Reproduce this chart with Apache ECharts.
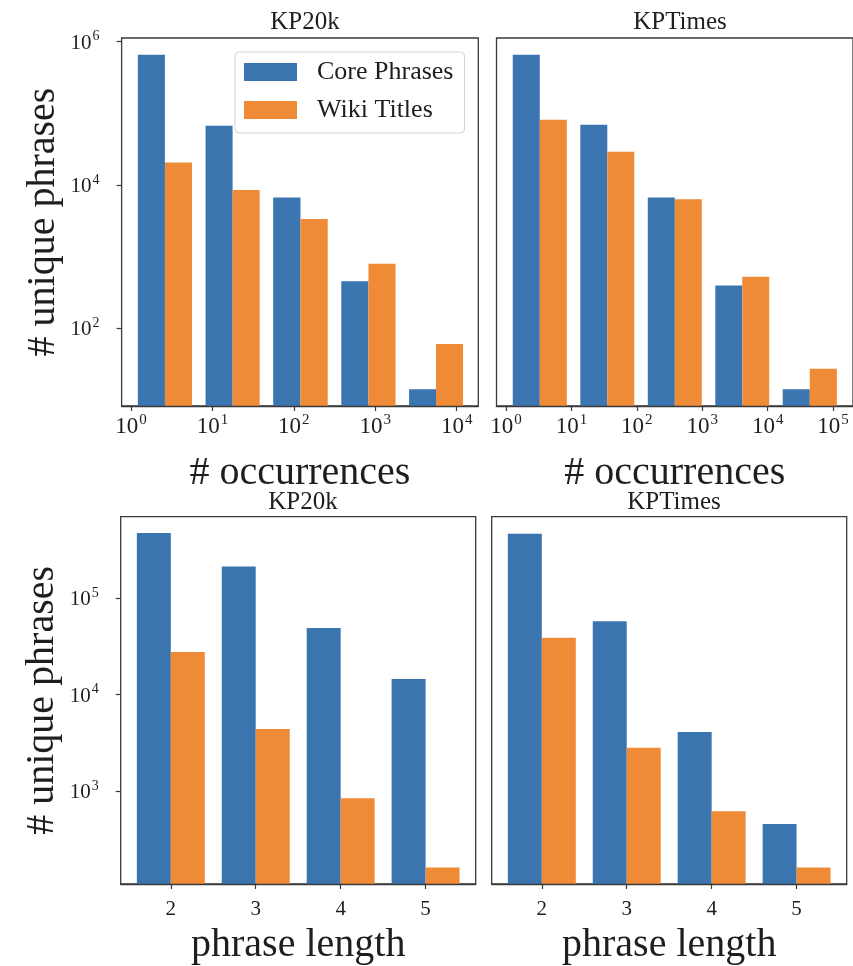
<!DOCTYPE html>
<html><head><meta charset="utf-8">
<script src="https://cdn.jsdelivr.net/npm/echarts@6/dist/echarts.min.js"></script>
<style>html,body{margin:0;padding:0;background:#fff}#c{width:853px;height:966px}</style>
</head><body><div id="c"></div>
<script>
// ---- data ----
const seriesNames = ['Core Phrases', 'Wiki Titles'];
const panelTitles = ['KP20k', 'KPTimes', 'KP20k', 'KPTimes'];
// histogram bin edges (# occurrences)
const kp20kOccBinEdges = [1, 6.8, 46, 316, 2150, 14500];
const kptimesOccBinEdges = [1, 10.8, 116, 1250, 13400, 145000];
// # unique phrases per bin
const kp20kOccCore = [660000, 67000, 6650, 450, 14];
const kp20kOccWiki = [20600, 8500, 3340, 790, 60];
const kptimesOccCore = [660000, 69000, 6650, 395, 14];
const kptimesOccWiki = [81000, 29000, 6300, 520, 27];
// phrase length
const phraseLengths = [2, 3, 4, 5];
const kp20kLenCore = [470000, 212000, 49000, 14500];
const kp20kLenWiki = [27700, 4430, 850, 164];
const kptimesLenCore = [460000, 57400, 4120, 460];
const kptimesLenWiki = [38700, 2820, 622, 164];
// tick labels (exponents of 10)
const kp20kOccXTicks = [0, 1, 2, 3, 4];
const kptimesOccXTicks = [0, 1, 2, 3, 4, 5];
const occYTicks = [2, 4, 6];
const lenYTicks = [3, 4, 5];

// ---- style ----
const FONT = "'Liberation Serif', 'Times New Roman', serif";
const BLUE = '#3a75b0', ORANGE = '#ef8a36';
const INK = '#1e1e1e', FRAME = '#3a3a3a';

const chart = echarts.init(document.getElementById('c'));

function supFmt(v) { return '{b|10}{s|' + v + '}'; }
const xRich = {
  b: {fontFamily: FONT, fontSize: 23, color: INK, verticalAlign: 'bottom'},
  s: {fontFamily: FONT, fontSize: 15, color: INK, verticalAlign: 'bottom', padding: [0, 0, 10, 1]}
};
const yRich = {
  b: {fontFamily: FONT, fontSize: 21, color: INK, verticalAlign: 'bottom'},
  s: {fontFamily: FONT, fontSize: 14, color: INK, verticalAlign: 'bottom', padding: [0, 0, 10, 1]}
};

const grids = [
  {left: 121.6, top: 38, width: 356.7, height: 368},
  {left: 496.5, top: 38, width: 357.5, height: 368},
  {left: 120.7, top: 516.7, width: 355, height: 368.3},
  {left: 491.7, top: 516.7, width: 355, height: 368.3}
].map(g => Object.assign(g, {show: true, borderColor: FRAME, borderWidth: 1.3, containLabel: false}));

function xAxisOcc(idx, min, max, ticks) {
  return {
    type: 'value', gridIndex: idx, min, max, z: 10,
    name: '# occurrences', nameLocation: 'middle', nameGap: 47,
    nameTextStyle: {fontFamily: FONT, fontSize: 40, color: INK},
    axisLine: {show: true, onZero: false, lineStyle: {color: FRAME, width: 1.3}},
    axisTick: {show: true, length: 5, customValues: ticks, lineStyle: {color: FRAME, width: 1.2}},
    axisLabel: {show: true, customValues: ticks, margin: 7, formatter: supFmt, rich: xRich},
    splitLine: {show: false}
  };
}
function xAxisLen(idx) {
  return {
    type: 'value', gridIndex: idx, min: 1.41, max: 5.59, z: 10,
    name: 'phrase length', nameLocation: 'middle', nameGap: 41,
    nameTextStyle: {fontFamily: FONT, fontSize: 40, color: INK},
    axisLine: {show: true, onZero: false, lineStyle: {color: FRAME, width: 1.3}},
    axisTick: {show: true, length: 5, customValues: phraseLengths, lineStyle: {color: FRAME, width: 1.2}},
    axisLabel: {show: true, customValues: phraseLengths, margin: 15, fontFamily: FONT, fontSize: 21, color: INK},
    splitLine: {show: false}
  };
}
function yAxisLog(idx, min, max, ticks, showLabels) {
  return {
    type: 'value', gridIndex: idx, min, max, z: 10,
    name: showLabels ? '# unique phrases' : '', nameLocation: 'middle', nameGap: 58,
    nameTextStyle: {fontFamily: FONT, fontSize: 40, color: INK},
    axisLine: {show: false, onZero: false},
    axisTick: {show: showLabels, length: 5, customValues: ticks, lineStyle: {color: FRAME, width: 1.2}},
    axisLabel: {show: showLabels, customValues: ticks, margin: 22, formatter: supFmt, rich: yRich},
    splitLine: {show: false}
  };
}

function histSeries(name, color, edges, counts, slot, gi) {
  const data = counts.map((c, i) => {
    const lo = Math.log10(edges[i]), hi = Math.log10(edges[i + 1]);
    return [(lo + hi) / 2, Math.log10(c), lo, hi, c];
  });
  return {
    type: 'custom', name, xAxisIndex: gi, yAxisIndex: gi, clip: true,
    itemStyle: {color}, data, encode: {x: 0, y: 1},
    renderItem(params, api) {
      const lo = api.value(2), hi = api.value(3), w = hi - lo;
      const x0 = lo + w * (0.1 + 0.4 * slot), x1 = x0 + 0.4 * w;
      const p0 = api.coord([x0, api.value(1)]);
      const p1 = api.coord([x1, api.value(1)]);
      const cs = params.coordSys;
      return {type: 'rect', shape: {x: p0[0], y: p0[1], width: p1[0] - p0[0], height: cs.y + cs.height - p0[1]},
        style: {fill: api.visual('color')}};
    }
  };
}
function lenSeries(name, color, counts, slot, gi) {
  const data = phraseLengths.map((L, i) => [L, Math.log10(counts[i]), counts[i]]);
  return {
    type: 'custom', name, xAxisIndex: gi, yAxisIndex: gi, clip: true,
    itemStyle: {color}, data, encode: {x: 0, y: 1},
    renderItem(params, api) {
      const x0 = api.value(0) - 0.4 + 0.4 * slot, x1 = x0 + 0.4;
      const p0 = api.coord([x0, api.value(1)]);
      const p1 = api.coord([x1, api.value(1)]);
      const cs = params.coordSys;
      return {type: 'rect', shape: {x: p0[0], y: p0[1], width: p1[0] - p0[0], height: cs.y + cs.height - p0[1]},
        style: {fill: api.visual('color')}};
    }
  };
}

const titleCenters = [[300, 5], [675, 5], [298, 485], [669, 485]];

const option = {
  backgroundColor: '#fff',
  animation: false,
  title: panelTitles.map((t, i) => ({
    text: t, left: titleCenters[i][0], top: titleCenters[i][1], textAlign: 'center',
    textStyle: {fontFamily: FONT, fontSize: 25, fontWeight: 'normal', color: INK}
  })),
  legend: {
    data: seriesNames, orient: 'vertical', left: 235, top: 52,
    icon: 'rect', itemWidth: 53, itemHeight: 18, itemGap: 12,
    padding: [7, 11, 10, 9], backgroundColor: 'rgba(255,255,255,0.85)',
    borderColor: '#d4d4d4', borderWidth: 1, borderRadius: 4,
    textStyle: {fontFamily: FONT, fontSize: 26, color: INK, padding: [0, 0, 0, 15]}
  },
  grid: grids,
  xAxis: [
    xAxisOcc(0, -0.116, 4.266, kp20kOccXTicks),
    xAxisOcc(1, -0.145, 5.305, kptimesOccXTicks),
    xAxisLen(2), xAxisLen(3)
  ],
  yAxis: [
    yAxisLog(0, 0.912, 6.052, occYTicks, true),
    yAxisLog(1, 0.912, 6.052, occYTicks, false),
    yAxisLog(2, 2.043, 5.84, lenYTicks, true),
    yAxisLog(3, 2.043, 5.84, lenYTicks, false)
  ],
  series: [
    histSeries(seriesNames[0], BLUE, kp20kOccBinEdges, kp20kOccCore, 0, 0),
    histSeries(seriesNames[1], ORANGE, kp20kOccBinEdges, kp20kOccWiki, 1, 0),
    histSeries(seriesNames[0], BLUE, kptimesOccBinEdges, kptimesOccCore, 0, 1),
    histSeries(seriesNames[1], ORANGE, kptimesOccBinEdges, kptimesOccWiki, 1, 1),
    lenSeries(seriesNames[0], BLUE, kp20kLenCore, 0, 2),
    lenSeries(seriesNames[1], ORANGE, kp20kLenWiki, 1, 2),
    lenSeries(seriesNames[0], BLUE, kptimesLenCore, 0, 3),
    lenSeries(seriesNames[1], ORANGE, kptimesLenWiki, 1, 3)
  ]
};
chart.setOption(option);
</script>
</body></html>
